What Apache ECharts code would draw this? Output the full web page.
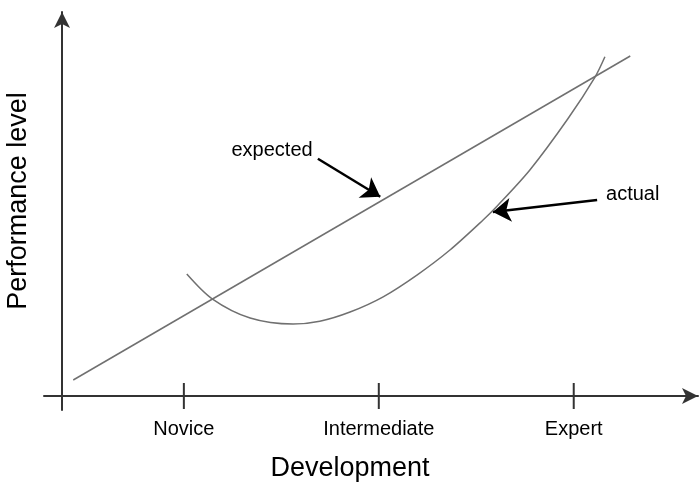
<!DOCTYPE html>
<html>
<head>
<meta charset="utf-8">
<script src="https://cdn.jsdelivr.net/npm/echarts@6/dist/echarts.min.js"></script>
<style>
  html, body { margin: 0; padding: 0; background: #fff; }
  #chart { width: 700px; height: 485px; }
</style>
</head>
<body>
<div id="chart"></div>
<script>
// stage names and where they sit on the development axis
const stageNames = ['Novice', 'Intermediate', 'Expert'];
const stageValues = [25, 65, 105];

// expected performance: straight line
const expectedPoints = [[2.3, 4], [116.6, 85]];

// actual performance: dips, then climbs
const actualPoints = [
    [25.6, 30.5], [30.8, 24.3], [38.6, 19.5], [47.4, 18], [52.9, 18.7],
    [59.1, 21], [65.9, 24.8], [72.9, 30.3], [79.6, 36.5], [86.4, 44.0],
    [89.3, 47.5], [96.0, 56.5], [103.8, 69.3], [109.4, 79.8], [111.4, 84.8]
];

// annotations: label position and arrow from -> to
const noteTexts = ['expected', 'actual'];
const notePositions = [[43.1, 61.5], [117.1, 50.3]];
const noteArrows = [
    [[52.5, 59.3], [65.3, 49.8]],
    [[109.8, 49], [88.4, 46]]
];

const fontName = 'Liberation Sans';
const axisColor = '#333';
const curveColor = '#707070';

let chart;

function buildOption() {
    return {
        animation: false,
        grid: { left: 44, right: 2, top: 12, bottom: 75, outerBoundsMode: 'none' },
        xAxis: {
            type: 'value',
            min: -3.7,
            max: 130.5,
            name: 'Development',
            nameLocation: 'middle',
            nameGap: 45,
            nameTextStyle: {
                fontFamily: fontName, fontSize: 27, color: '#000',
                padding: [0, 42, 0, 0]
            },
            axisLine: {
                show: true,
                onZero: true,
                symbol: ['none', 'arrow'],
                symbolSize: [12, 16],
                lineStyle: { color: axisColor, width: 2 }
            },
            axisTick: { show: false },
            splitLine: { show: false },
            axisLabel: {
                customValues: stageValues,
                margin: 9,
                fontFamily: fontName,
                fontSize: 20,
                color: '#000',
                formatter: v => stageNames[stageValues.indexOf(v)] || ''
            }
        },
        yAxis: {
            type: 'value',
            min: -3.5,
            max: 96,
            name: 'Performance level',
            nameLocation: 'middle',
            nameGap: 12,
            nameTextStyle: {
                fontFamily: fontName, fontSize: 27, color: '#000',
                padding: [0, 0, 0, 20]
            },
            axisLine: {
                show: true,
                onZero: true,
                symbol: ['none', 'arrow'],
                symbolSize: [12, 16],
                lineStyle: { color: axisColor, width: 2 }
            },
            axisTick: { show: false },
            splitLine: { show: false },
            axisLabel: { show: false }
        },
        series: [
            {
                // tick marks crossing the x axis
                type: 'scatter',
                data: stageValues.map(v => [v, 0]),
                symbol: 'rect',
                symbolSize: [2, 26],
                itemStyle: { color: axisColor, opacity: 1 },
                silent: true
            },
            {
                name: 'expected',
                type: 'line',
                data: expectedPoints,
                showSymbol: false,
                lineStyle: { color: curveColor, width: 1.5 }
            },
            {
                name: 'actual',
                type: 'line',
                data: actualPoints,
                smooth: 0.3,
                showSymbol: false,
                lineStyle: { color: curveColor, width: 1.5 }
            },
            {
                type: 'lines',
                coordinateSystem: 'cartesian2d',
                data: noteArrows.map(a => ({ coords: a })),
                symbol: ['none', 'arrow'],
                symbolSize: 18,
                lineStyle: { color: '#000', width: 2.5, opacity: 1 },
                silent: true
            },
            {
                type: 'scatter',
                data: notePositions.map((p, i) => ({ value: p, name: noteTexts[i] })),
                symbolSize: 0,
                itemStyle: { opacity: 1 },
                label: {
                    show: true,
                    position: 'inside',
                    formatter: '{b}',
                    fontFamily: fontName,
                    fontSize: 20,
                    color: '#000'
                },
                silent: true
            }
        ]
    };
}

document.addEventListener('DOMContentLoaded', function () {
    chart = echarts.init(document.getElementById('chart'));
    chart.setOption(buildOption());
});
</script>
</body>
</html>
